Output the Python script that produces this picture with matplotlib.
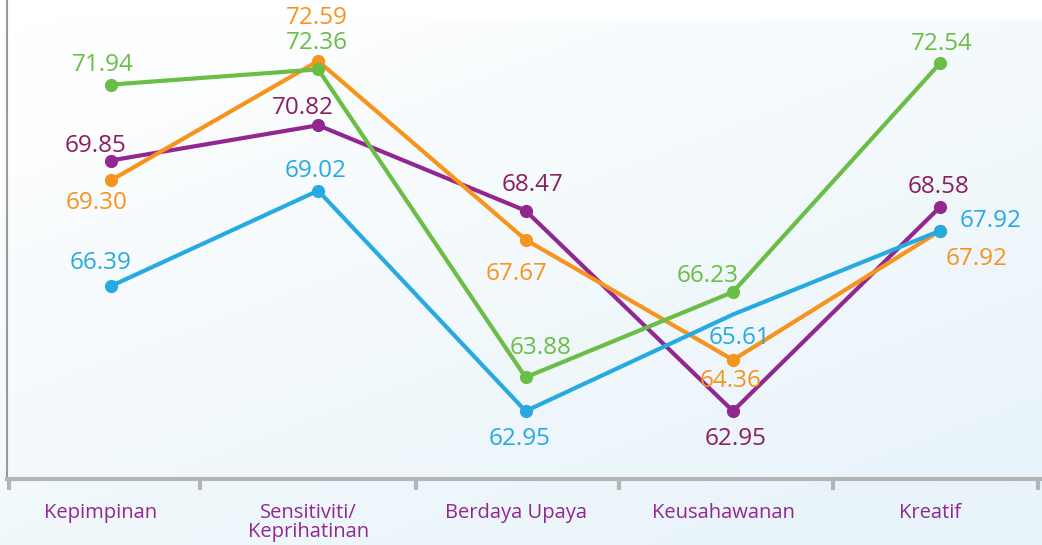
import numpy as np
import matplotlib.pyplot as plt
from matplotlib.colors import to_rgb

plt.rcParams["font.family"] = ["Open Sans", "DejaVu Sans"]

# data
categories = ["Kepimpinan", "Sensitiviti/\nKeprihatinan", "Berdaya Upaya",
              "Keusahawanan", "Kreatif"]
purple_vals = [69.85, 70.82, 68.47, 62.95, 68.58]
orange_vals = [69.30, 72.59, 67.67, 64.36, 67.92]
green_vals = [71.94, 72.36, 63.88, 66.23, 72.54]
blue_vals = [66.39, 69.02, 62.95, 65.61, 67.92]

# label offsets in pixels (dx, dy), centre of label relative to point
purple_offsets = [(-15, 18), (-15, 20), (7, 29), (3, -25), (-2, 23)]
orange_offsets = [(-14, -20), (-1, 46), (-9, -31), (-2, -18), (36, -25)]
green_offsets = [(-8, 23), (-1, 29), (15, 32), (-25, 19), (1, 22)]
blue_offsets = [(-10, 26), (-3, 23), (-6, -25), (6, -21), (50, 13)]

series = [
    (purple_vals, "#92278f", "#8b1e5f", purple_offsets, None),
    (orange_vals, "#f7941d", "#f7941d", orange_offsets, None),
    (green_vals, "#6abd45", "#6abd45", green_offsets, None),
    (blue_vals, "#27aae1", "#27aae1", blue_offsets, [0, 1, 2, 4]),
]

fig = plt.figure(figsize=(10.42, 5.45), dpi=100)

# soft background gradient
bg = fig.add_axes([0, 0, 1, 1], zorder=0)
h, w = 109, 208
yy, xx = np.mgrid[0:h, 0:w]
t = np.clip((yy / h) * 0.7 + (xx / w) * 0.5 - 0.05, 0, 1)
t[yy < 4] = 0
c0 = np.array(to_rgb("#ffffff"))
c1 = np.array(to_rgb("#e9f4fa"))
img = c0[None, None, :] * (1 - t[..., None]) + c1[None, None, :] * t[..., None]
bg.imshow(img, aspect="auto", extent=[0, 1, 0, 1], interpolation="bilinear")
bg.axis("off")

ax = fig.add_axes([7 / 1042, 66 / 545, 1033 / 1042, 479 / 545], zorder=1)
ax.patch.set_alpha(0)

x = np.arange(len(categories))
for vals, lc, tc, offs, mev in series:
    ax.plot(x, vals, color=lc, lw=3, marker="o", markersize=8.5,
            markevery=mev, solid_capstyle="round", zorder=3)
    for xi, v, (dx, dy) in zip(x, vals, offs):
        ax.annotate(f"{v:.2f}", (xi, v), xytext=(dx, dy - 9),
                    textcoords="offset pixels", ha="center", va="baseline",
                    fontsize=17.5, color=tc, zorder=4)

ax.set_xlim(-0.5, 4.48)
ax.set_ylim(61.08, 74.27)

ax.spines["top"].set_visible(False)
ax.spines["right"].set_visible(False)
ax.spines["left"].set_color("#9a9a9a")
ax.spines["left"].set_linewidth(1.5)
ax.spines["bottom"].set_color("#b5b5b5")
ax.spines["bottom"].set_linewidth(3)

ax.set_yticks([])
ax.set_xticks([])
separators = [-0.49, 0.43, 1.47, 2.45, 3.48, 4.47]
ax.set_xticks(separators, minor=True)
ax.tick_params(axis="x", which="minor", length=8, width=3, color="#b5b5b5",
               direction="out")

for xi, name in zip(x, categories):
    ax.annotate(name, (xi, 0), xycoords=("data", "axes fraction"),
                xytext=(-10, -24), textcoords="offset pixels",
                ha="center", va="top", fontsize=14.5, color="#92278f",
                linespacing=0.95, annotation_clip=False)

fig.savefig("out.png", dpi=100)
